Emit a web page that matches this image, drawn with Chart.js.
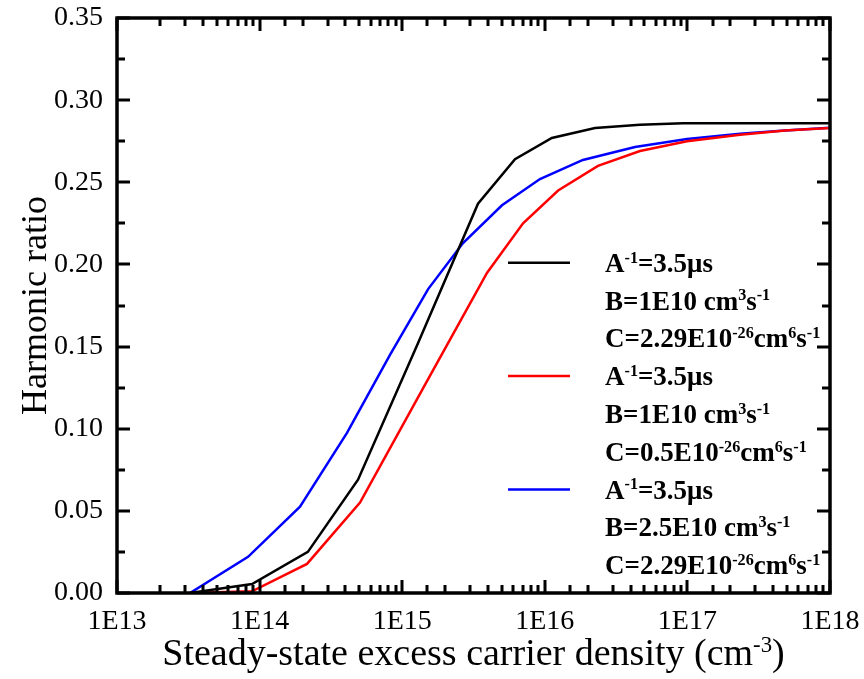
<!DOCTYPE html>
<html>
<head>
<meta charset="utf-8">
<script src="https://cdn.jsdelivr.net/npm/chart.js@4.4.1/dist/chart.umd.min.js"></script>
<style>
  html, body { margin: 0; padding: 0; background: #fff; }
  #wrap { width: 864px; height: 679px; }
</style>
</head>
<body>
<div id="wrap"><canvas id="chart" width="864" height="679"></canvas></div>
<script>
// carrier density (cm^-3) and harmonic ratio, one pair per curve
const blackDensity = [3.25e13, 8.85e13, 2.18e14, 4.9e14, 1.29e15, 3.4e15, 6.18e15, 1.12e16, 2.25e16, 4.65e16, 9.31e16, 2.16e17, 4.84e17, 1e18];
const blackRatio   = [0, 0.0055, 0.025, 0.069, 0.152, 0.237, 0.264, 0.277, 0.283, 0.285, 0.286, 0.286, 0.286, 0.286];

const redDensity = [3.25e13, 8.85e13, 2.15e14, 5.06e14, 1.45e15, 3.94e15, 7.04e15, 1.24e16, 2.36e16, 4.65e16, 9.94e16, 2.34e17, 4.83e17, 1e18];
const redRatio   = [0, 0.001, 0.0177, 0.055, 0.127, 0.195, 0.225, 0.245, 0.26, 0.269, 0.275, 0.279, 0.2815, 0.283];

const blueDensity = [3.25e13, 8.3e13, 1.92e14, 4.1e14, 8.21e14, 1.52e15, 2.67e15, 5.01e15, 9.25e15, 1.85e16, 4.29e16, 9.94e16, 2.34e17, 4.83e17, 1e18];
const blueRatio   = [0, 0.022, 0.0525, 0.0975, 0.145, 0.185, 0.213, 0.236, 0.252, 0.2636, 0.2715, 0.2763, 0.2795, 0.2815, 0.2832];

// legend texts, ^{..} marks a superscript
const blackLabel = ['A^{-1}=3.5\u03bcs', 'B=1E10 cm^{3}s^{-1}', 'C=2.29E10^{-26}cm^{6}s^{-1}'];
const redLabel   = ['A^{-1}=3.5\u03bcs', 'B=1E10 cm^{3}s^{-1}', 'C=0.5E10^{-26}cm^{6}s^{-1}'];
const blueLabel  = ['A^{-1}=3.5\u03bcs', 'B=2.5E10 cm^{3}s^{-1}', 'C=2.29E10^{-26}cm^{6}s^{-1}'];

const xTitle = 'Steady-state excess carrier density (cm^{-3})';
const yTitle = 'Harmonic ratio';

const xMin = 1e13, xMax = 1e18;
const yMin = 0, yMax = 0.35, yStep = 0.05;

const SERIF = '"Liberation Serif", "Times New Roman", serif';
Chart.defaults.font.family = SERIF;

function toPoints(xs, ys) {
  return xs.map((x, i) => ({ x: x, y: ys[i] }));
}

// split 'a^{b}c' into [{t:'a'},{t:'b',sup:true},{t:'c'}]
function parseRich(str) {
  const parts = [];
  const re = /\^\{([^}]*)\}/g;
  let last = 0, m;
  while ((m = re.exec(str)) !== null) {
    if (m.index > last) parts.push({ t: str.slice(last, m.index) });
    parts.push({ t: m[1], sup: true });
    last = re.lastIndex;
  }
  if (last < str.length) parts.push({ t: str.slice(last) });
  return parts;
}

function drawRich(ctx, str, x, y, size, weight, align) {
  const parts = parseRich(str);
  const font = s => weight + ' ' + s + 'px ' + SERIF;
  const supSize = size * 0.6;
  let total = 0;
  parts.forEach(p => {
    ctx.font = font(p.sup ? supSize : size);
    p.w = ctx.measureText(p.t).width;
    total += p.w;
  });
  let cx = align === 'center' ? x - total / 2 : x;
  ctx.textAlign = 'left';
  ctx.textBaseline = 'alphabetic';
  parts.forEach(p => {
    ctx.font = font(p.sup ? supSize : size);
    ctx.fillText(p.t, cx, p.sup ? y - size * 0.34 : y);
    cx += p.w;
  });
}

// frame, inward ticks on all four sides, axis titles and legend
const framePlugin = {
  id: 'frame',
  afterDraw(chart) {
    const ctx = chart.ctx;
    const { left, right, top, bottom } = chart.chartArea;
    const xs = chart.scales.x, ys = chart.scales.y;
    ctx.save();
    ctx.strokeStyle = '#000';
    ctx.fillStyle = '#000';

    // ticks
    ctx.lineWidth = 3;
    ctx.beginPath();
    xs.ticks.forEach(t => {
      const e = Math.log10(t.value);
      const major = Math.abs(e - Math.round(e)) < 1e-6;
      const len = major ? 13 : 8;
      const px = Math.round(xs.getPixelForValue(t.value));
      ctx.moveTo(px, bottom); ctx.lineTo(px, bottom - len);
      ctx.moveTo(px, top); ctx.lineTo(px, top + len);
    });
    for (let v = yMin; v <= yMax + 1e-9; v += yStep / 2) {
      const major = Math.abs(v / yStep - Math.round(v / yStep)) < 1e-6;
      const len = major ? 13 : 8;
      const py = Math.round(ys.getPixelForValue(v));
      ctx.moveTo(left, py); ctx.lineTo(left + len, py);
      ctx.moveTo(right, py); ctx.lineTo(right - len, py);
    }
    ctx.stroke();

    // frame
    ctx.lineWidth = 3.5;
    ctx.strokeRect(left, top, right - left, bottom - top);

    // axis titles
    drawRich(ctx, xTitle, (left + right) / 2, 665, 38, 'normal', 'center');
    ctx.save();
    ctx.translate(46, (top + bottom) / 2);
    ctx.rotate(-Math.PI / 2);
    drawRich(ctx, yTitle, 0, 0, 36, 'normal', 'center');
    ctx.restore();

    // legend
    const rowGap = 37.8;
    chart.data.datasets.forEach((ds, i) => {
      const y0 = 262.7 + i * 3 * rowGap;
      ctx.strokeStyle = ds.borderColor;
      ctx.lineWidth = 2.5;
      ctx.beginPath();
      ctx.moveTo(508, y0); ctx.lineTo(570, y0);
      ctx.stroke();
      ds.legendLines.forEach((line, j) => {
        drawRich(ctx, line, 605, y0 + 9 + j * rowGap, 27, 'bold', 'left');
      });
    });
    ctx.restore();
  }
};

const chart = new Chart(document.getElementById('chart'), {
  type: 'line',
  data: {
    datasets: [
      { data: toPoints(blackDensity, blackRatio), borderColor: '#000000', legendLines: blackLabel },
      { data: toPoints(redDensity, redRatio), borderColor: '#ff0000', legendLines: redLabel },
      { data: toPoints(blueDensity, blueRatio), borderColor: '#0000ff', legendLines: blueLabel }
    ]
  },
  options: {
    responsive: false,
    animation: false,
    devicePixelRatio: 1,
    layout: { padding: { top: 18, right: 34, left: 0, bottom: 0 } },
    elements: {
      line: { borderWidth: 2.5, tension: 0, fill: false },
      point: { radius: 0, hoverRadius: 0 }
    },
    plugins: {
      legend: { display: false },
      tooltip: { enabled: false }
    },
    scales: {
      x: {
        type: 'logarithmic',
        min: xMin,
        max: xMax,
        grid: { display: false, drawTicks: false },
        border: { display: false },
        afterFit: s => { s.height = 86; s.paddingLeft = 0; s.paddingRight = 0; },
        ticks: {
          autoSkip: false,
          maxRotation: 0,
          padding: 12,
          color: '#000',
          font: { family: SERIF, size: 28 },
          callback: v => {
            const e = Math.log10(v);
            return Math.abs(e - Math.round(e)) < 1e-6 ? '1E' + Math.round(e) : '';
          }
        }
      },
      y: {
        min: yMin,
        max: yMax,
        grid: { display: false, drawTicks: false },
        border: { display: false },
        afterFit: s => { s.width = 117; s.paddingTop = 0; s.paddingBottom = 0; },
        ticks: {
          stepSize: yStep,
          padding: 14,
          color: '#000',
          font: { family: SERIF, size: 28 },
          callback: v => Number(v).toFixed(2)
        }
      }
    }
  },
  plugins: [framePlugin]
});
</script>
</body>
</html>
